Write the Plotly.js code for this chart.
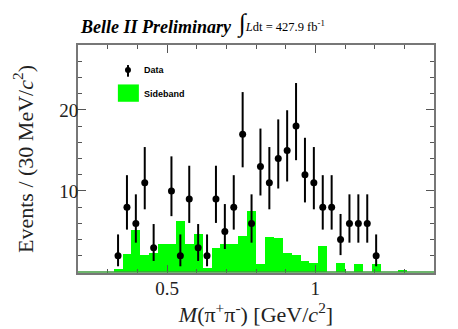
<!DOCTYPE html>
<html>
<head>
<meta charset="utf-8">
<script src="https://cdn.plot.ly/plotly-3.0.1.min.js"></script>
<style>
  html, body { margin: 0; padding: 0; background: #fff; }
  #plotly-plot { width: 458px; height: 329px; }
</style>
</head>
<body>
<div id="plotly-plot"></div>
<script>
// data points (30 MeV bins, empty bin at 0.485 not drawn)
var data_mass = [0.335, 0.365, 0.395, 0.425, 0.455, 0.515, 0.545, 0.575, 0.605, 0.635,
                 0.665, 0.695, 0.725, 0.755, 0.785, 0.815, 0.845, 0.875, 0.905, 0.935,
                 0.965, 0.995, 1.025, 1.055, 1.085, 1.115, 1.145, 1.175, 1.205];
var data_events = [2, 8, 6, 11, 3, 10, 2, 9, 3, 2,
                   9, 5, 8, 17, 6, 13, 11, 14, 15, 18,
                   12, 11, 8, 8, 4, 6, 6, 6, 2];
var data_err_up = [2.638, 3.945, 3.583, 4.414, 2.918, 4.266, 2.638, 4.110, 2.918, 2.638,
                   4.110, 3.382, 3.945, 5.194, 3.583, 4.693, 4.414, 4.825, 4.952, 5.310,
                   4.557, 4.414, 3.945, 3.945, 3.162, 3.583, 3.583, 3.583, 2.638];
var data_err_down = [1.292, 2.768, 2.379, 3.265, 1.633, 3.108, 1.292, 2.943, 1.633, 1.292,
                     2.943, 2.159, 2.768, 4.086, 2.379, 3.560, 3.265, 3.698, 3.832, 4.207,
                     3.416, 3.265, 2.768, 2.768, 1.914, 2.379, 2.379, 2.379, 1.292];

// sideband histogram
var sb_mass = [0.335, 0.365, 0.395, 0.425, 0.455, 0.485, 0.515, 0.545, 0.575, 0.605,
               0.635, 0.665, 0.695, 0.725, 0.755, 0.785, 0.815, 0.845, 0.875, 0.905,
               0.935, 0.965, 0.995, 1.025, 1.055, 1.085, 1.115, 1.145, 1.175, 1.205,
               1.235, 1.265, 1.295];
var sb_events = [0.33, 2.2, 5.15, 2.1, 2.4, 3.4, 3.4, 6.3, 3.5, 4.7,
                 0.5, 3.0, 3.5, 3.5, 4.45, 7.5, 1.05, 4.3, 4.15, 2.3,
                 2.15, 1.3, 1.15, 3.15, 0, 1.15, 0, 1.05, 0, 1.05,
                 0, 0, 0.2];
var bin_width = 0.03;

var x_ticks = [0.5, 1];
var x_tick_labels = ['0.5', '1'];
var y_ticks = [10, 20];
var y_tick_labels = ['10', '20'];

// PLOTLY
var trace_sb = {
    name: 'Sideband',
    x: sb_mass,
    y: sb_events,
    type: 'bar',
    width: bin_width,
    marker: { color: '#00ff00', line: { width: 0 } },
    hoverinfo: 'skip'
};

var trace_data = {
    name: 'Data',
    x: data_mass,
    y: data_events,
    type: 'scatter',
    mode: 'markers',
    marker: { color: '#000000', size: 7 },
    error_y: {
        type: 'data',
        symmetric: false,
        array: data_err_up,
        arrayminus: data_err_down,
        color: '#000000',
        thickness: 2,
        width: 0
    }
};

var serif = 'Liberation Serif, Times New Roman, serif';
var sans = 'Liberation Sans, Arial, sans-serif';

var layout = {
    width: 458,
    height: 329,
    margin: { l: 78, r: 24, t: 45, b: 56, pad: 0 },
    paper_bgcolor: '#ffffff',
    plot_bgcolor: '#ffffff',
    showlegend: false,
    bargap: 0,
    xaxis: {
        range: [0.2, 1.4],
        tickvals: x_ticks,
        ticktext: x_tick_labels,
        ticks: 'inside',
        ticklen: 8,
        tickwidth: 1,
        tickcolor: '#555555',
        ticklabelstandoff: -3,
        minor: { tickmode: 'linear', tick0: 0, dtick: 0.1, ticks: 'inside', ticklen: 4, tickcolor: '#555555' },
        showgrid: false,
        zeroline: false,
        showline: true,
        linecolor: '#777777',
        linewidth: 2,
        mirror: 'ticks',
        tickfont: { family: serif, size: 19, color: '#222222' },
        title: {
            text: '<i>M</i>(π<sup>+</sup>π<sup>-</sup>) [GeV/<i>c</i><sup>2</sup>]',
            font: { family: serif, size: 22, color: '#222222' },
            standoff: 0
        }
    },
    yaxis: {
        range: [-0.12, 28.0],
        tickvals: y_ticks,
        ticktext: y_tick_labels,
        ticks: 'inside',
        ticklen: 8,
        tickwidth: 1,
        tickcolor: '#555555',
        ticklabelstandoff: -6,
        minor: { tickmode: 'linear', tick0: 0, dtick: 2, ticks: 'inside', ticklen: 4, tickcolor: '#555555' },
        showgrid: false,
        zeroline: false,
        showline: true,
        linecolor: '#777777',
        linewidth: 2,
        mirror: 'ticks',
        tickfont: { family: serif, size: 19, color: '#222222' },
        title: {
            text: 'Events / (30 MeV/<i>c</i><sup>2</sup>)',
            font: { family: serif, size: 22, color: '#222222' },
            standoff: 20
        }
    },
    shapes: [
        // green baseline of the sideband histogram
        { type: 'line', xref: 'paper', yref: 'y', x0: 0, x1: 1, y0: 0, y1: 0,
          line: { color: '#3c9c3c', width: 1.5 }, layer: 'above' },
        // legend icons
        { type: 'rect', xref: 'paper', yref: 'paper', x0: 0.112, x1: 0.171, y0: 0.751, y1: 0.827,
          fillcolor: '#00ff00', line: { width: 0 } },
        { type: 'line', xref: 'paper', yref: 'paper', x0: 0.1404, x1: 0.1404, y0: 0.861, y1: 0.912,
          line: { color: '#000000', width: 2 } },
        { type: 'circle', xref: 'paper', yref: 'paper', x0: 0.1320, x1: 0.1488, y0: 0.877, y1: 0.903,
          fillcolor: '#000000', line: { width: 0 } }
    ],
    annotations: [
        { text: '<b><i>Belle II Preliminary</i></b>', xref: 'paper', yref: 'paper',
          x: 0.0, y: 1.026, xanchor: 'left', yanchor: 'bottom', showarrow: false,
          font: { family: serif, size: 18, color: '#000000' } },
        { text: '<span style="font-size:25px">∫</span><i>L</i>dt = 427.9 fb<sup>-1</sup>', xref: 'paper', yref: 'paper',
          x: 0.44, y: 1.02, xanchor: 'left', yanchor: 'bottom', showarrow: false,
          font: { family: serif, size: 12.5, color: '#000000' } },
        { text: '<b>Data</b>', xref: 'paper', yref: 'paper',
          x: 0.181, y: 0.890, xanchor: 'left', yanchor: 'middle', showarrow: false,
          font: { family: sans, size: 9, color: '#000000' } },
        { text: '<b>Sideband</b>', xref: 'paper', yref: 'paper',
          x: 0.181, y: 0.785, xanchor: 'left', yanchor: 'middle', showarrow: false,
          font: { family: sans, size: 9, color: '#000000' } }
    ]
};

Plotly.newPlot('plotly-plot', [trace_sb, trace_data], layout, { staticPlot: true, displayModeBar: false });
</script>
</body>
</html>
